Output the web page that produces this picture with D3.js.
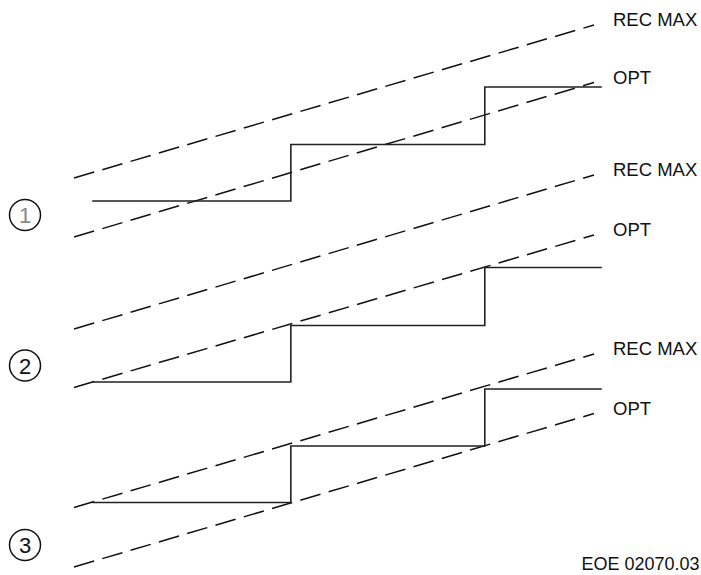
<!DOCTYPE html>
<html>
<head>
<meta charset="utf-8">
<script src="https://cdn.jsdelivr.net/npm/d3@7"></script>
<style>
  html, body { margin: 0; padding: 0; background: #fff; }
  svg { display: block; }
  text { font-family: "Liberation Sans", Arial, Helvetica, sans-serif; }
</style>
</head>
<body>
<script>
// ---- data (values in chart units) ----
const panels = ["1", "2", "3"];
const lineLabels = ["REC MAX", "OPT"];
// dashed guide lines: [start value, end value] across the x domain [0, 10]
const recMaxStart = [79.4, 49.2, 13.5];
const recMaxEnd   = [110.0, 80.0, 44.2];
const optStart    = [67.6, 37.5, 1.6];
const optEnd      = [98.5, 68.0, 32.3];
// step profile: x breakpoints and the three levels per panel
const stepX = [0.35, 4.17, 7.9, 10.15];
const stepLevels = [
  [74.8, 86.1, 97.6],
  [38.6, 49.9, 61.5],
  [14.5, 25.8, 37.2]
];
const lineXDomain = [0, 10];
const footer = "EOE 02070.03";

// ---- drawing ----
const W = 701, H = 575;
const svg = d3.select("body").append("svg").attr("width", W).attr("height", H);

const x = d3.scaleLinear().domain(lineXDomain).range([74, 594]);
const y = d3.scaleLinear().domain([0, 115]).range([575, 0]);

const dashLine = d3.line().x(d => x(d[0])).y(d => y(d[1]));
const stepLine = d3.line().x(d => x(d[0])).y(d => y(d[1])).curve(d3.curveStepAfter);

panels.forEach((p, i) => {
  const g = svg.append("g");
  const guides = [
    { label: lineLabels[0], pts: [[lineXDomain[0], recMaxStart[i]], [lineXDomain[1], recMaxEnd[i]]] },
    { label: lineLabels[1], pts: [[lineXDomain[0], optStart[i]], [lineXDomain[1], optEnd[i]]] }
  ];
  guides.forEach(gd => {
    g.append("path")
      .attr("d", dashLine(gd.pts))
      .attr("fill", "none")
      .attr("stroke", "#111")
      .attr("stroke-width", 1.5)
      .attr("stroke-dasharray", "21,8.5");
    g.append("text")
      .attr("x", x(lineXDomain[1]) + 19)
      .attr("y", y(gd.pts[1][1]) + 1)
      .attr("font-size", 18.5)
      .attr("fill", "#111")
      .text(gd.label);
  });

  const lv = stepLevels[i];
  const stepPts = [[stepX[0], lv[0]], [stepX[1], lv[1]], [stepX[2], lv[2]], [stepX[3], lv[2]]];
  g.append("path")
    .attr("d", stepLine(stepPts))
    .attr("fill", "none")
    .attr("stroke", "#222")
    .attr("stroke-width", 1.6);

  const cy = y(optStart[i]) - 22;
  g.append("circle")
    .attr("cx", 25).attr("cy", cy).attr("r", 15.5)
    .attr("fill", "none").attr("stroke", "#111").attr("stroke-width", 1.5);
  g.append("text")
    .attr("x", 25).attr("y", cy + 8)
    .attr("text-anchor", "middle")
    .attr("font-size", 22)
    .attr("font-weight", p === "1" ? 300 : 400)
    .attr("fill", p === "1" ? "#888" : "#111")
    .text(p);
});

svg.append("text")
  .attr("x", 581.5).attr("y", 570)
  .attr("font-size", 18)
  .attr("fill", "#111")
  .text(footer);
</script>
</body>
</html>
